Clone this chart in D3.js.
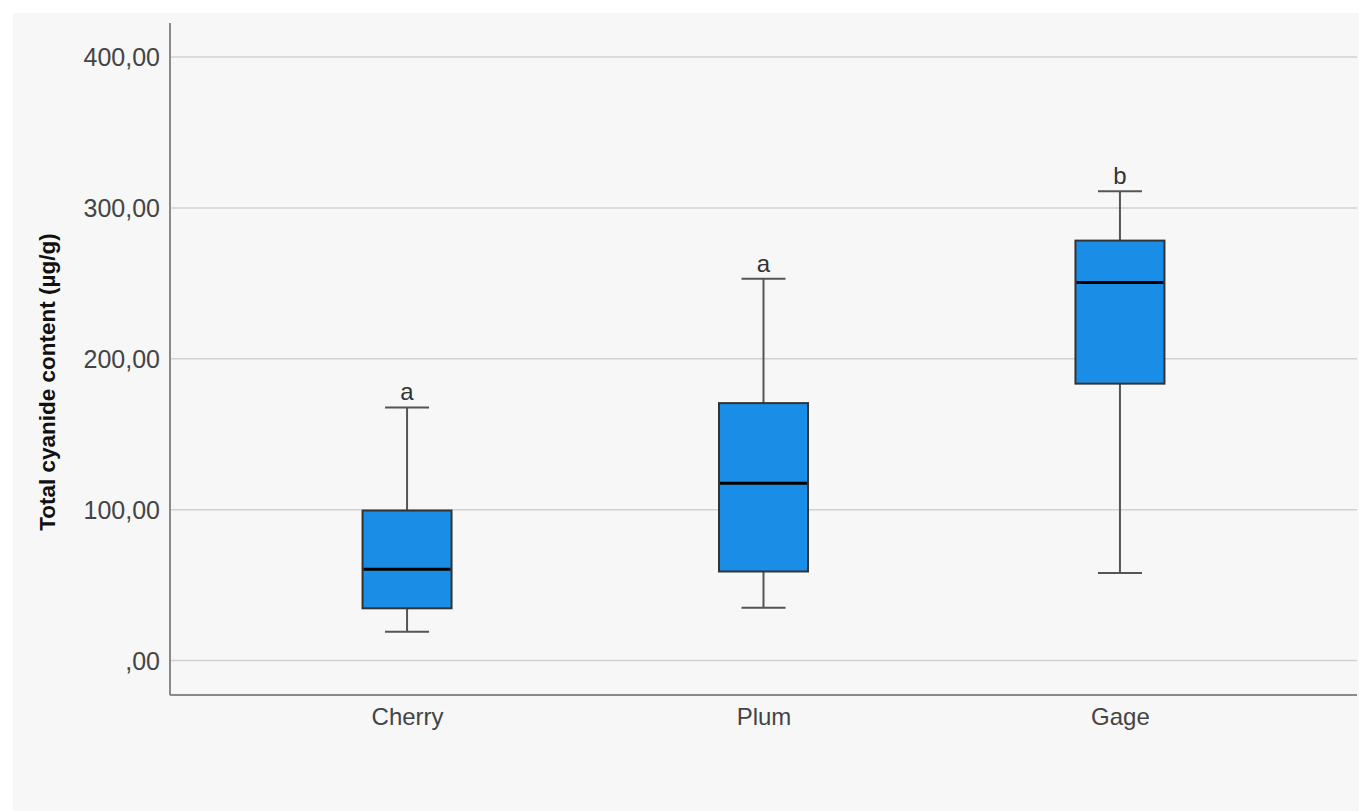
<!DOCTYPE html>
<html><head><meta charset="utf-8">
<script src="https://cdn.jsdelivr.net/npm/d3@7"></script>
<style>body{margin:0;background:#fff;} svg{display:block;}</style>
</head><body>
<svg id="c" width="1359" height="811"></svg>
<script>
const categories = ["Cherry", "Plum", "Gage"];
const whiskerLow = [19, 35, 58];
const q1 = [34.6, 59, 183.5];
const median = [60.5, 117.5, 250.5];
const q3 = [99.4, 170.6, 278.3];
const whiskerHigh = [167.7, 253, 311];
const letters = ["a", "a", "b"];
const yTicks = [0, 100, 200, 300, 400];
const yTickLabels = [",00", "100,00", "200,00", "300,00", "400,00"];
const yLabel = "Total cyanide content (µg/g)";

(function () {
const svg = d3.select("#c");
const W = 1359, H = 811;
const pLeft = 170, pRight = 1357, pTop = 23, pBottom = 695;

svg.append("rect").attr("x", 13).attr("y", 13).attr("width", W - 13).attr("height", H - 13).attr("fill", "#f7f7f7");

const y = d3.scaleLinear().domain([0, 400]).range([660.5, 57]);
const x = d3.scalePoint().domain(categories).range([pLeft, pRight]).padding(0.665);

// gridlines
svg.append("g").selectAll("line").data(yTicks).join("line")
  .attr("x1", pLeft).attr("x2", pRight)
  .attr("y1", d => y(d)).attr("y2", d => y(d))
  .attr("stroke", "#d2d2d2").attr("stroke-width", 1.5);

// y axis
const yAxis = d3.axisLeft(y).tickValues(yTicks).tickSize(0).tickPadding(10)
  .tickFormat((d, i) => yTickLabels[i]);
const gy = svg.append("g").attr("transform", `translate(${pLeft},0)`).call(yAxis);
gy.select(".domain").remove();
gy.selectAll("text").attr("font-family", "Liberation Sans, Arial, sans-serif")
  .attr("font-size", 25).attr("fill", "#444").attr("dy", "0.35em");

svg.append("line").attr("x1", pLeft).attr("x2", pLeft).attr("y1", pTop).attr("y2", pBottom)
  .attr("stroke", "#8a8a8a").attr("stroke-width", 2);

// x axis
const xAxis = d3.axisBottom(x).tickSize(0).tickPadding(13);
const gx = svg.append("g").attr("transform", `translate(0,${pBottom})`).call(xAxis);
gx.select(".domain").remove();
gx.selectAll("text").attr("font-family", "Liberation Sans, Arial, sans-serif")
  .attr("font-size", 24).attr("fill", "#444");
svg.append("line").attr("x1", pLeft).attr("x2", pRight).attr("y1", pBottom).attr("y2", pBottom)
  .attr("stroke", "#8a8a8a").attr("stroke-width", 2);

// y label
svg.append("text").attr("transform", "translate(55,382) rotate(-90)")
  .attr("text-anchor", "middle").attr("font-family", "Liberation Sans, Arial, sans-serif")
  .attr("font-size", 22.5).attr("font-weight", "bold").attr("fill", "#111").text(yLabel);

const boxW = 89, capW = 44;
const data = categories.map((c, i) => ({c, lo: whiskerLow[i], q1: q1[i], med: median[i], q3: q3[i], hi: whiskerHigh[i], l: letters[i]}));
const g = svg.append("g").selectAll("g").data(data).join("g");

g.append("line").attr("x1", d => x(d.c)).attr("x2", d => x(d.c))
  .attr("y1", d => y(d.hi)).attr("y2", d => y(d.q3)).attr("stroke", "#555").attr("stroke-width", 2);
g.append("line").attr("x1", d => x(d.c)).attr("x2", d => x(d.c))
  .attr("y1", d => y(d.q1)).attr("y2", d => y(d.lo)).attr("stroke", "#555").attr("stroke-width", 2);
g.append("line").attr("x1", d => x(d.c) - capW / 2).attr("x2", d => x(d.c) + capW / 2)
  .attr("y1", d => y(d.hi)).attr("y2", d => y(d.hi)).attr("stroke", "#555").attr("stroke-width", 2);
g.append("line").attr("x1", d => x(d.c) - capW / 2).attr("x2", d => x(d.c) + capW / 2)
  .attr("y1", d => y(d.lo)).attr("y2", d => y(d.lo)).attr("stroke", "#555").attr("stroke-width", 2);
g.append("rect").attr("x", d => x(d.c) - boxW / 2).attr("width", boxW)
  .attr("y", d => y(d.q3)).attr("height", d => y(d.q1) - y(d.q3))
  .attr("fill", "#1a8ee6").attr("stroke", "#333").attr("stroke-width", 2);
g.append("line").attr("x1", d => x(d.c) - boxW / 2 + 1).attr("x2", d => x(d.c) + boxW / 2 - 1)
  .attr("y1", d => y(d.med)).attr("y2", d => y(d.med)).attr("stroke", "#000").attr("stroke-width", 3);
g.append("text").attr("x", d => x(d.c)).attr("y", d => y(d.hi) - 7)
  .attr("text-anchor", "middle").attr("font-family", "Liberation Sans, Arial, sans-serif")
  .attr("font-size", 24).attr("fill", "#333").text(d => d.l);
})();
</script>
</body></html>
